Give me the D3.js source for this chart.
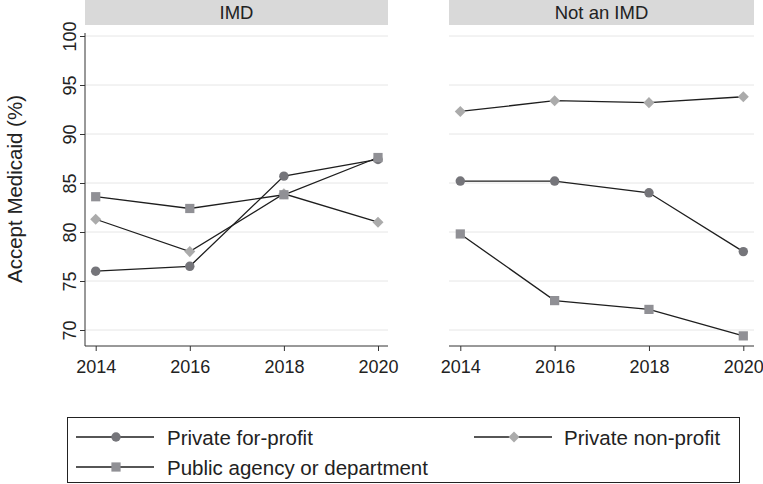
<!DOCTYPE html>
<html>
<head>
<meta charset="utf-8">
<script src="https://cdn.jsdelivr.net/npm/d3@7"></script>
<style>
  body { margin: 0; background: #fff; }
  text { font-family: "Liberation Sans", Arial, sans-serif; fill: #222; }
</style>
</head>
<body>
<div id="chart"></div>
<script>
// Data
var years = [2014, 2016, 2018, 2020];
var panels = ['IMD', 'Not an IMD'];
var yTicks = [70, 75, 80, 85, 90, 95, 100];

var forProfitIMD = [76.0, 76.5, 85.7, 87.4];
var nonProfitIMD = [81.3, 78.0, 83.9, 81.0];
var publicIMD = [83.6, 82.4, 83.8, 87.6];

var forProfitNot = [85.2, 85.2, 84.0, 78.0];
var nonProfitNot = [92.3, 93.4, 93.2, 93.8];
var publicNot = [79.8, 73.0, 72.1, 69.4];

var series = [
  { name: 'Private for-profit', shape: 'circle', color: '#75757a', vals: [forProfitIMD, forProfitNot] },
  { name: 'Private non-profit', shape: 'diamond', color: '#ababab', vals: [nonProfitIMD, nonProfitNot] },
  { name: 'Public agency or department', shape: 'square', color: '#909095', vals: [publicIMD, publicNot] }
];

var width = 763, height = 484;
var font = '"Liberation Sans", Arial, sans-serif';
var svg = d3.select('#chart').append('svg')
  .attr('width', width)
  .attr('height', height);

var plotTop = 33, plotBottom = 346;
var y = d3.scaleLinear().domain([70, 100]).range([330, 36]);

var panelBox = [
  { x0: 85, x1: 388, first: 95.7, last: 378 },
  { x0: 449, x1: 754, first: 460.3, last: 743.3 }
];

function symbolPath(shape) {
  if (shape === 'circle') return d3.symbol(d3.symbolCircle, 70)();
  if (shape === 'square') return d3.symbol(d3.symbolSquare, 85)();
  return d3.symbol(d3.symbolDiamond2, 78)();
}

panels.forEach(function(p, pi) {
  var b = panelBox[pi];
  var x = d3.scaleLinear().domain([2014, 2020]).range([b.first, b.last]);
  var g = svg.append('g');

  // header strip
  g.append('rect')
    .attr('x', b.x0).attr('y', 0)
    .attr('width', b.x1 - b.x0).attr('height', 25)
    .attr('fill', '#d9d9d9');
  g.append('text')
    .attr('x', (b.x0 + b.x1) / 2).attr('y', 19)
    .attr('text-anchor', 'middle')
    .style('font-size', '18.5px')
    .text(p);

  // grid
  g.selectAll('.grid').data(yTicks).enter().append('line')
    .attr('x1', b.x0).attr('x2', b.x1)
    .attr('y1', function(d) { return y(d); })
    .attr('y2', function(d) { return y(d); })
    .attr('stroke', '#e6e6e6').attr('stroke-width', 1);

  // x axis
  var xAxis = d3.axisBottom(x).tickValues(years).tickFormat(d3.format('d')).tickSize(5).tickPadding(9);
  var xa = g.append('g').attr('transform', 'translate(0,' + plotBottom + ')').call(xAxis);
  xa.select('.domain').remove();
  xa.append('line').attr('x1', b.x0).attr('x2', b.x1).attr('stroke', '#333');
  xa.selectAll('.tick line').attr('stroke', '#333');
  xa.selectAll('text').style('font-size', '18px').style('font-family', font).attr('fill', '#222');

  // y axis only on first panel
  if (pi === 0) {
    var yAxis = d3.axisLeft(y).tickValues(yTicks).tickSize(5).tickPadding(4);
    var ya = g.append('g').attr('transform', 'translate(' + b.x0 + ',0)').call(yAxis);
    ya.select('.domain').remove();
    ya.append('line').attr('y1', plotTop).attr('y2', plotBottom).attr('stroke', '#333');
    ya.selectAll('.tick line').attr('stroke', '#333');
    ya.selectAll('.tick text')
      .attr('x', 0).attr('dy', 0)
      .attr('transform', 'translate(-9,0) rotate(-90)')
      .attr('text-anchor', 'middle')
      .style('font-size', '18px')
      .style('font-family', font)
      .attr('fill', '#222');
  }

  // lines and markers
  var line = d3.line()
    .x(function(d, i) { return x(years[i]); })
    .y(function(d) { return y(d); });

  series.forEach(function(s) {
    g.append('path')
      .datum(s.vals[pi])
      .attr('d', line)
      .attr('fill', 'none')
      .attr('stroke', '#1e1e1e')
      .attr('stroke-width', 1.3);
  });
  series.forEach(function(s) {
    g.selectAll('.m' + s.shape).data(s.vals[pi]).enter().append('path')
      .attr('d', symbolPath(s.shape))
      .attr('transform', function(d, i) { return 'translate(' + x(years[i]) + ',' + y(d) + ')'; })
      .attr('fill', s.color);
  });
});

// y title
svg.append('text')
  .attr('transform', 'translate(22,189) rotate(-90)')
  .attr('text-anchor', 'middle')
  .style('font-size', '20.5px')
  .text('Accept Medicaid (%)');

// legend
var legend = svg.append('g');
legend.append('rect')
  .attr('x', 67.5).attr('y', 417.5)
  .attr('width', 672).attr('height', 65)
  .attr('fill', 'none').attr('stroke', '#222').attr('stroke-width', 1);

var legendPos = [
  { lx: 76, tx: 167, y: 437 },
  { lx: 474, tx: 564, y: 437 },
  { lx: 76, tx: 167, y: 467 }
];
series.forEach(function(s, i) {
  var p = legendPos[i];
  legend.append('line')
    .attr('x1', p.lx).attr('x2', p.lx + 78)
    .attr('y1', p.y).attr('y2', p.y)
    .attr('stroke', '#1e1e1e').attr('stroke-width', 1.3);
  legend.append('path')
    .attr('d', symbolPath(s.shape))
    .attr('transform', 'translate(' + (p.lx + 40) + ',' + p.y + ')')
    .attr('fill', s.color);
  legend.append('text')
    .attr('x', p.tx).attr('y', p.y + 7.5)
    .style('font-size', '20.5px')
    .text(s.name);
});
</script>
</body>
</html>
